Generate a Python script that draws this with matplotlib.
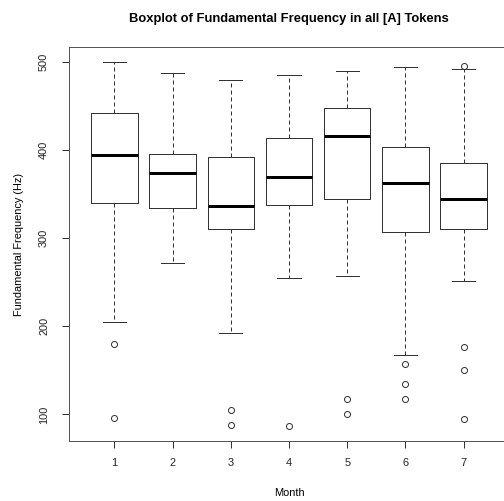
import matplotlib
matplotlib.use("Agg")
import matplotlib.pyplot as plt

plt.rcParams['font.family'] = ['Liberation Sans', 'DejaVu Sans']

# valores (Hz)
meses = [1, 2, 3, 4, 5, 6, 7]
q1 = [340, 334, 310, 338, 344, 307, 311]
mediana = [394, 374, 337, 369, 416, 363, 344]
q3 = [442, 396, 392, 414, 448, 403, 385]
bigote_inf = [205, 272, 192, 255, 257, 168, 252]
bigote_sup = [500, 488, 480, 485, 490, 494, 492]
atipicos = [[180, 96], [], [105, 88], [87], [118, 100],
            [157, 134, 118], [496, 177, 150, 95]]

stats = []
for i in range(len(meses)):
    stats.append({'label': str(meses[i]), 'q1': q1[i], 'med': mediana[i],
                  'q3': q3[i], 'whislo': bigote_inf[i],
                  'whishi': bigote_sup[i], 'fliers': atipicos[i]})

fig = plt.figure(figsize=(504 / 72, 501 / 72), dpi=72)
ax = fig.add_axes([69 / 504, 1 - 441.3 / 501, 440 / 504, 394 / 501])

gris = '#333333'
ax.bxp(stats, positions=meses, widths=0.8,
       boxprops=dict(color=gris, linewidth=1),
       medianprops=dict(color='black', linewidth=3, solid_capstyle='butt'),
       whiskerprops=dict(color=gris, linewidth=1, linestyle=(0, (4, 3))),
       capprops=dict(color=gris, linewidth=1),
       flierprops=dict(marker='o', markerfacecolor='none',
                       markeredgecolor=gris, markersize=6, markeredgewidth=1),
       capwidths=0.4)

ax.set_xlim(0.22, 7.78)
ax.set_ylim(69.5, 516.7)
ax.set_yticks([100, 200, 300, 400, 500])
ax.set_xticks(meses)
ax.set_xticklabels([str(m) for m in meses])
for lbl in ax.get_yticklabels():
    lbl.set_rotation(90)
    lbl.set_va('center')
ax.tick_params(direction='out', length=7, width=1, color=gris,
               labelsize=11, labelcolor='#222222')
ax.tick_params(axis='x', pad=10)
ax.tick_params(axis='y', pad=13)
for s in ax.spines.values():
    s.set_color('#555555')
    s.set_linewidth(1)

ax.set_title('Boxplot of Fundamental Frequency in all [A] Tokens',
             fontsize=13, fontweight='bold', pad=25)
ax.set_xlabel('Month', fontsize=11)
ax.set_ylabel('Fundamental Frequency (Hz)', fontsize=11)
ax.xaxis.set_label_coords(0.5, -0.118)
ax.yaxis.set_label_coords(-0.102, 0.5)

fig.savefig('out.png', dpi=72)
